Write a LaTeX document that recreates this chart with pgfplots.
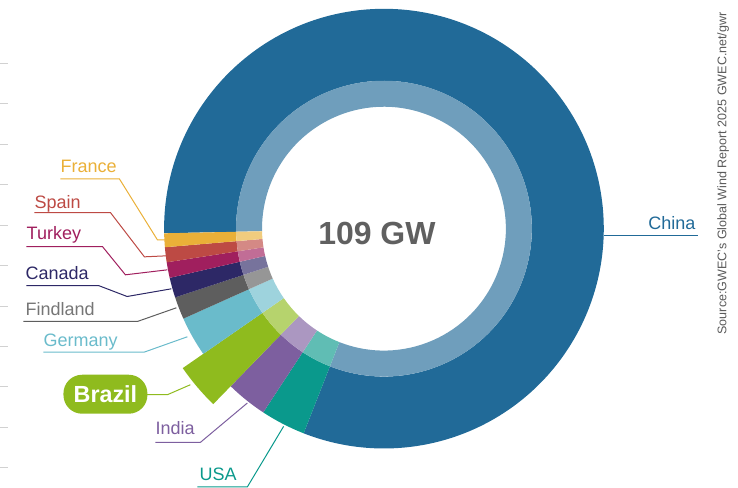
\documentclass[border=0pt]{standalone}
\usepackage{pgfplots}
\pgfplotsset{compat=1.18}
\usepackage{pgfplotstable}
\usepackage{fontspec}
\setmainfont{Liberation Sans}
\definecolor{cChina}{RGB}{33,106,152}
\definecolor{cUSA}{RGB}{10,153,140}
\definecolor{cIndia}{RGB}{125,95,159}
\definecolor{cBrazil}{RGB}{143,187,30}
\definecolor{cGermany}{RGB}{106,187,203}
\definecolor{cFinland}{RGB}{94,94,94}
\definecolor{cCanada}{RGB}{45,40,102}
\definecolor{cTurkey}{RGB}{160,31,94}
\definecolor{cSpain}{RGB}{189,74,68}
\definecolor{cFrance}{RGB}{234,176,56}
\definecolor{cCenter}{RGB}{96,96,96}
\definecolor{cSource}{RGB}{90,90,90}
\newcommand\ringslice[4]{% index, colour, inner radius, outer radius
  \fill[#2] (C) ++(\csname angA#1\endcsname:#4) arc[start angle=\csname angA#1\endcsname, end angle=\csname angB#1\endcsname, radius=#4]
    -- ($(C)+(\csname angB#1\endcsname:#3)$) arc[start angle=\csname angB#1\endcsname, end angle=\csname angA#1\endcsname, radius=#3] -- cycle;}
\usetikzlibrary{calc}
\begin{document}
\pgfplotstableread{
country value
China 88.6
USA 3.6
India 3.3
Brazil 3.35
Germany 3.2
Finland 1.8
Canada 1.6
Turkey 1.25
Spain 1.2
France 1.1
}\gwdata
\xdef\cum{181.2}%
\foreach \i in {0,...,9}{%
  \pgfplotstablegetelem{\i}{value}\of\gwdata
  \pgfmathsetmacro\nxt{\cum-\pgfplotsretval/109*360}%
  \expandafter\xdef\csname angA\i\endcsname{\cum}%
  \expandafter\xdef\csname angB\i\endcsname{\nxt}%
  \xdef\cum{\nxt}%
}%
\begin{tikzpicture}
\begin{axis}[x=0.75pt, y=0.75pt, xmin=0, xmax=738, ymin=0, ymax=488,
  y dir=reverse, hide axis, clip=false, scale only axis]
\path (axis cs:0,0) rectangle (axis cs:738,488);
\coordinate (C) at (axis cs:383.7,228.8);
% outer solid ring
\ringslice{0}{cChina}{111pt}{165pt}
\ringslice{1}{cUSA}{111pt}{165pt}
\ringslice{2}{cIndia}{111pt}{165pt}
\ringslice{3}{cBrazil}{111pt}{183.75pt}
\ringslice{4}{cGermany}{111pt}{165pt}
\ringslice{5}{cFinland}{111pt}{165pt}
\ringslice{6}{cCanada}{111pt}{165pt}
\ringslice{7}{cTurkey}{111pt}{165pt}
\ringslice{8}{cSpain}{111pt}{165pt}
\ringslice{9}{cFrance}{111pt}{165pt}
% inner light ring
\ringslice{0}{cChina!65!white}{91.5pt}{111pt}
\ringslice{1}{cUSA!65!white}{91.5pt}{111pt}
\ringslice{2}{cIndia!65!white}{91.5pt}{111pt}
\ringslice{3}{cBrazil!65!white}{91.5pt}{111pt}
\ringslice{4}{cGermany!65!white}{91.5pt}{111pt}
\ringslice{5}{cFinland!65!white}{91.5pt}{111pt}
\ringslice{6}{cCanada!65!white}{91.5pt}{111pt}
\ringslice{7}{cTurkey!65!white}{91.5pt}{111pt}
\ringslice{8}{cSpain!65!white}{91.5pt}{111pt}
\ringslice{9}{cFrance!65!white}{91.5pt}{111pt}
% centre text
\node[anchor=base, text=cCenter, font=\bfseries\fontsize{24}{28}\selectfont] at (axis cs:376.7,245) {109 GW};
% left gray ticks
\pgfplotsinvokeforeach{64,104,145,185,226,266,307,347,387,428,468}{
  \draw[black!18, line width=0.75pt] (axis cs:0,#1) -- (axis cs:8,#1);
}
% leader lines
\draw[cFrance, line width=0.75pt] (axis cs:60,179) -- (axis cs:119,179) -- (axis cs:157,240) -- (axis cs:165,240);
\draw[cSpain, line width=0.75pt] (axis cs:34,212.7) -- (axis cs:110,212.7) -- (axis cs:144,257) -- (axis cs:166,256);
\draw[cTurkey, line width=0.75pt] (axis cs:26,246.7) -- (axis cs:102,246.7) -- (axis cs:125,275) -- (axis cs:167,270);
\draw[cCanada, line width=0.75pt] (axis cs:26,285.7) -- (axis cs:98,285.7) -- (axis cs:126.7,296.7) -- (axis cs:171,289);
\draw[cFinland, line width=0.75pt] (axis cs:23,321.7) -- (axis cs:137,321.7) -- (axis cs:176,308);
\draw[cGermany, line width=0.75pt] (axis cs:43,352.3) -- (axis cs:144,352.3) -- (axis cs:187,337);
\draw[cBrazil, line width=0.75pt] (axis cs:140,395) -- (axis cs:167,395) -- (axis cs:190,385);
\draw[cIndia, line width=0.75pt] (axis cs:155,442.7) -- (axis cs:200,442.7) -- (axis cs:247,403.3);
\draw[cUSA, line width=0.75pt] (axis cs:197,487.3) -- (axis cs:247,487.3) -- (axis cs:283.3,426.7);
\draw[cChina, line width=0.75pt] (axis cs:604,235.7) -- (axis cs:698,235.7);
% labels
\tikzset{lab/.style={anchor=base west, inner sep=0pt, font=\fontsize{13.5}{16}\selectfont}}
\node[lab, text=cFrance] at (axis cs:60,173) {France};
\node[lab, text=cSpain] at (axis cs:34,208.3) {Spain};
\node[lab, text=cTurkey] at (axis cs:26,240) {Turkey};
\node[lab, text=cCanada] at (axis cs:25,279.3) {Canada};
\node[lab, text=cFinland!85!white] at (axis cs:25,315.7) {Findland};
\node[lab, text=cGermany] at (axis cs:43,346.7) {Germany};
\node[lab, text=cIndia] at (axis cs:155,434.5) {India};
\node[lab, text=cUSA] at (axis cs:199,481) {USA};
\node[lab, text=cChina] at (axis cs:648,229.5) {China};
\node[fill=cBrazil, rounded corners=14pt, minimum width=63pt, minimum height=29.25pt, inner sep=0pt,
  text=white, font=\bfseries\fontsize{17.5}{20}\selectfont] at (axis cs:105,394.5) {Brazil};
% source
\node[rotate=90, text=cSource, inner sep=0pt, font=\fontsize{9.4}{11}\selectfont] at (axis cs:723,173.5) {Source:GWEC's Global Wind Report 2025 GWEC.net/gwr};
\end{axis}
\end{tikzpicture}
\end{document}
